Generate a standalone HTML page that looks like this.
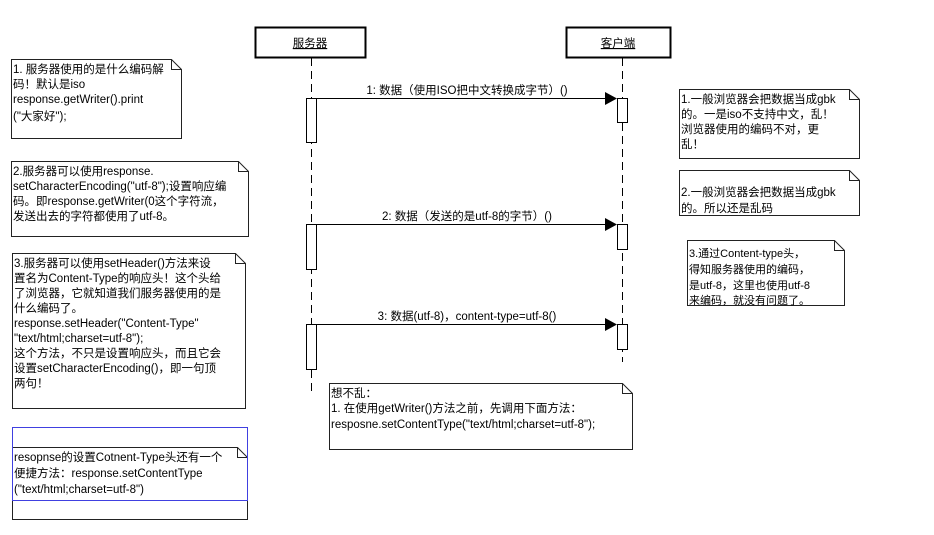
<!DOCTYPE html>
<html><head><meta charset="utf-8"><style>
body{margin:0;background:#fff;}
svg{display:block;}
text{font-family:"Liberation Sans","Noto Sans CJK SC",sans-serif;font-size:11.5px;fill:#000;}
</style></head><body>
<svg width="934" height="535" viewBox="0 0 934 535" xmlns="http://www.w3.org/2000/svg">
<g fill="#fff" stroke="#000" stroke-width="1">
<rect x="255.5" y="27.5" width="110" height="30" stroke-width="2"/>
<rect x="566.5" y="27.5" width="104" height="30" stroke-width="2"/>
</g>
<text x="310" y="47" text-anchor="middle" text-decoration="underline">服务器</text>
<text x="618" y="47" text-anchor="middle" text-decoration="underline">客户端</text>
<g stroke="#000" stroke-dasharray="8,5">
<line x1="311.5" y1="58" x2="311.5" y2="392"/>
<line x1="622.5" y1="58" x2="622.5" y2="362"/>
</g>
<g fill="#fff" stroke="#000">
<rect x="306.5" y="98.5" width="10" height="44"/>
<rect x="306.5" y="224.5" width="10" height="45"/>
<rect x="306.5" y="324.5" width="10" height="45"/>
<rect x="617.5" y="98.5" width="10" height="24"/>
<rect x="617.5" y="224.5" width="10" height="25"/>
<rect x="617.5" y="324.5" width="10" height="25"/>
</g>
<g stroke="#000">
<line x1="316" y1="98.5" x2="606" y2="98.5"/>
<line x1="316" y1="224.5" x2="606" y2="224.5"/>
<line x1="316" y1="324.5" x2="606" y2="324.5"/>
</g>
<g fill="#000">
<polygon points="605,92 617,98.5 605,105"/>
<polygon points="605,218 617,224.5 605,231"/>
<polygon points="605,318 617,324.5 605,331"/>
</g>
<text x="467" y="94" text-anchor="middle">1: 数据（使用ISO把中文转换成字节）()</text>
<text x="467" y="220" text-anchor="middle">2: 数据（发送的是utf-8的字节）()</text>
<text x="467" y="320" text-anchor="middle">3: 数据(utf-8)，content-type=utf-8()</text>

<g fill="#fff" stroke="#222">
<path d="M11.5 59.5 H171.5 L181.5 69.5 V138.5 H11.5 Z"/>
<path d="M171.5 59.5 V69.5 H181.5" fill="none"/>
<path d="M11.5 161.5 H238.5 L248.5 171.5 V236.5 H11.5 Z"/>
<path d="M238.5 161.5 V171.5 H248.5" fill="none"/>
<path d="M12.5 253.5 H235.5 L245.5 263.5 V408.5 H12.5 Z"/>
<path d="M235.5 253.5 V263.5 H245.5" fill="none"/>
<path d="M12.5 447.5 H237.5 L247.5 457.5 V519.5 H12.5 Z"/>
<path d="M237.5 447.5 V457.5 H247.5" fill="none"/>
<path d="M329.5 383.5 H622.5 L632.5 393.5 V449.5 H329.5 Z"/>
<path d="M622.5 383.5 V393.5 H632.5" fill="none"/>
<path d="M679.5 89.5 H849.5 L859.5 99.5 V158.5 H679.5 Z"/>
<path d="M849.5 89.5 V99.5 H859.5" fill="none"/>
<path d="M679.5 170.5 H849.5 L859.5 180.5 V215.5 H679.5 Z"/>
<path d="M849.5 170.5 V180.5 H859.5" fill="none"/>
<path d="M687.5 240.5 H834.5 L844.5 250.5 V305.5 H687.5 Z"/>
<path d="M834.5 240.5 V250.5 H844.5" fill="none"/>
</g>
<rect x="12.5" y="427.5" width="235" height="73" fill="none" stroke="#4040e0"/>

<g>
<text x="13" y="73">1. 服务器使用的是什么编码解</text>
<text x="13" y="88">码！默认是iso</text>
<text x="13" y="103">response.getWriter().print</text>
<text x="13" y="120">("大家好");</text>

<text x="13" y="175">2.服务器可以使用response.</text>
<text x="13" y="190">setCharacterEncoding("utf-8");设置响应编</text>
<text x="13" y="205">码。即response.getWriter(0这个字符流，</text>
<text x="13" y="220">发送出去的字符都使用了utf-8。</text>

<text x="14" y="267">3.服务器可以使用setHeader()方法来设</text>
<text x="14" y="282">置名为Content-Type的响应头！这个头给</text>
<text x="14" y="297">了浏览器，它就知道我们服务器使用的是</text>
<text x="14" y="312">什么编码了。</text>
<text x="14" y="327">response.setHeader("Content-Type"</text>
<text x="14" y="342">"text/html;charset=utf-8");</text>
<text x="14" y="357">这个方法，不只是设置响应头，而且它会</text>
<text x="14" y="372">设置setCharacterEncoding()，即一句顶</text>
<text x="14" y="387">两句！</text>

<text x="14" y="461">resopnse的设置Cotnent-Type头还有一个</text>
<text x="14" y="477">便捷方法：response.setContentType</text>
<text x="14" y="493">("text/html;charset=utf-8")</text>

<text x="331" y="397">想不乱：</text>
<text x="331" y="412">1. 在使用getWriter()方法之前，先调用下面方法：</text>
<text x="331" y="428">resposne.setContentType("text/html;charset=utf-8");</text>

<text x="681" y="103">1.一般浏览器会把数据当成gbk</text>
<text x="681" y="118">的。一是iso不支持中文，乱！</text>
<text x="681" y="133">浏览器使用的编码不对，更</text>
<text x="681" y="148">乱！</text>

<text x="681" y="196">2.一般浏览器会把数据当成gbk</text>
<text x="681" y="212">的。所以还是乱码</text>

<text x="689" y="257" style="font-size:11px">3.通过Content-type头，</text>
<text x="689" y="273" style="font-size:11px">得知服务器使用的编码，</text>
<text x="689" y="289" style="font-size:11px">是utf-8，这里也使用utf-8</text>
<text x="689" y="304" style="font-size:11px">来编码，就没有问题了。</text>
</g>
</svg>
</body></html>
